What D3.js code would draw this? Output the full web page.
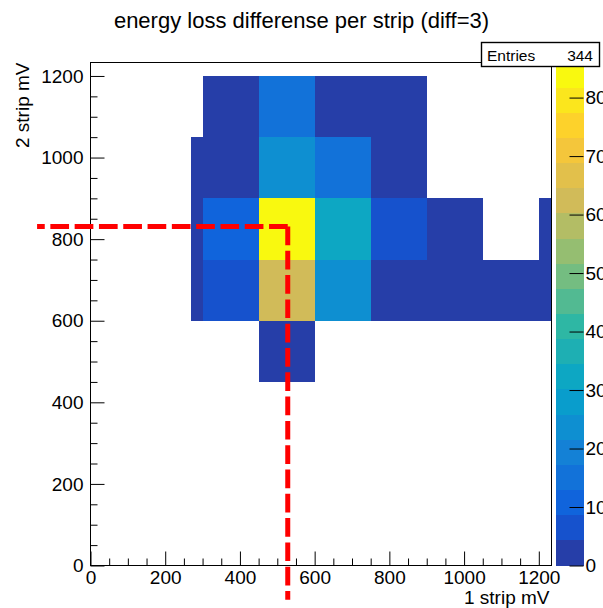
<!DOCTYPE html>
<html>
<head>
<meta charset="utf-8">
<script src="https://cdn.jsdelivr.net/npm/d3@7"></script>
<style>
  body { margin: 0; background: #fff; }
  svg { display: block; }
  text { font-family: "Liberation Sans", Arial, Helvetica, sans-serif; fill: #000; }
</style>
</head>
<body>
<svg id="chart" width="603" height="608"></svg>
<script>
// ---- data -------------------------------------------------------------
const title = "energy loss differense per strip (diff=3)";
const xTitle = "1 strip mV";
const yTitle = "2 strip mV";

// bin edges (mV) along each axis
const xBinEdges = [270, 300, 450, 600, 750, 900, 1050, 1200, 1350];
const yBinEdges = [450, 600, 750, 900, 1050, 1200];

// counts per cell: one row per y bin (bottom to top), one column per x bin
const binCounts = [
  [0, 0,  3,  0, 0, 0, 0, 0],   // 450-600
  [2, 6, 62, 24, 3, 2, 2, 1],   // 600-750
  [2, 10, 86, 32, 6, 2, 0, 1],  // 750-900
  [2, 3, 23, 14, 4, 0, 0, 0],   // 900-1050
  [0, 3, 15,  2, 2, 0, 0, 0]    // 1050-1200
];

const entries = 344;
const xRange = [0, 1234];
const yRange = [0, 1233];
const zMax = 86;
const nContours = 20;
const axisTicks = [0, 200, 400, 600, 800, 1000, 1200];
const zTicks = [0, 10, 20, 30, 40, 50, 60, 70, 80];

// guide lines marking the peak cell (mV)
const guideX = 528;
const guideY = 831;
const guideXStart = -143;
const guideYEnd = -84;

// ---- bird colour palette (255-colour gradient) -------------------------
const birdStops = [0.0000, 0.1250, 0.2500, 0.3750, 0.5000, 0.6250, 0.7500, 0.8750, 1.0000];
const birdR = [0.2082, 0.0592, 0.0780, 0.0232, 0.1802, 0.5301, 0.8186, 0.9956, 0.9764];
const birdG = [0.1664, 0.3599, 0.5041, 0.6419, 0.7178, 0.7492, 0.7328, 0.7862, 0.9832];
const birdB = [0.5293, 0.8684, 0.8385, 0.7914, 0.6425, 0.4662, 0.3499, 0.1968, 0.0539];
const nColors = 255;
const palette = [];
for (let g = 1; g < birdStops.length; g++) {
  const n = Math.floor(nColors * birdStops[g]) - Math.floor(nColors * birdStops[g - 1]);
  for (let c = 0; c < n; c++) {
    const r = birdR[g - 1] + c * (birdR[g] - birdR[g - 1]) / n;
    const gg = birdG[g - 1] + c * (birdG[g] - birdG[g - 1]) / n;
    const b = birdB[g - 1] + c * (birdB[g] - birdB[g - 1]) / n;
    palette.push(d3.rgb(Math.round(r * 255), Math.round(gg * 255), Math.round(b * 255)).formatHex());
  }
}
const levelColor = k => palette[Math.floor((k + 0.99) * nColors / nContours)];
const levelOf = v => Math.min(nContours - 1, Math.floor(0.01 + v * nContours / zMax));

// ---- layout -----------------------------------------------------------
const svg = d3.select("#chart");
const frame = { left: 90.5, right: 551.5, top: 62.5, bottom: 565.5 };

const x = d3.scaleLinear().domain(xRange).range([frame.left, frame.right]);
const y = d3.scaleLinear().domain(yRange).range([frame.bottom, frame.top]);
const z = d3.scaleLinear().domain([0, zMax]).range([frame.bottom, frame.top]);

svg.append("rect").attr("width", 603).attr("height", 608).attr("fill", "#fff");

// clip for the cells
svg.append("defs").append("clipPath").attr("id", "frameClip")
  .append("rect")
  .attr("x", frame.left).attr("y", frame.top)
  .attr("width", frame.right - frame.left).attr("height", frame.bottom - frame.top);

// ---- cells --------------------------------------------------------------
const cells = [];
binCounts.forEach((row, j) => {
  row.forEach((v, i) => {
    if (v > 0) cells.push({ x0: xBinEdges[i], x1: xBinEdges[i + 1], y0: yBinEdges[j], y1: yBinEdges[j + 1], v });
  });
});

svg.append("g").attr("clip-path", "url(#frameClip)")
  .selectAll("rect").data(cells).join("rect")
  .attr("x", d => x(d.x0))
  .attr("y", d => y(d.y1))
  .attr("width", d => x(d.x1) - x(d.x0))
  .attr("height", d => y(d.y0) - y(d.y1))
  .attr("fill", d => levelColor(levelOf(d.v)))
  .attr("shape-rendering", "crispEdges");

// ---- axes -----------------------------------------------------------------
function styleAxis(g) {
  g.select(".domain").remove();
  g.selectAll("line").attr("stroke", "#000").attr("stroke-width", 1);
  g.selectAll("text").attr("font-size", 19).attr("fill", "#000")
    .attr("font-family", "\"Liberation Sans\", Arial, Helvetica, sans-serif");
}

const minorTicks = d3.range(0, 1234, 50).filter(v => v % 200 !== 0);

svg.append("g").attr("transform", `translate(0,${frame.bottom})`)
  .call(d3.axisBottom(x).tickValues(minorTicks).tickSizeInner(-7).tickSizeOuter(0).tickFormat(""))
  .call(styleAxis);
svg.append("g").attr("transform", `translate(0,${frame.bottom})`)
  .call(d3.axisBottom(x).tickValues(axisTicks).tickSizeInner(-14).tickSizeOuter(0).tickPadding(5).tickFormat(d3.format("d")))
  .call(styleAxis);

svg.append("g").attr("transform", `translate(${frame.left},0)`)
  .call(d3.axisLeft(y).tickValues(minorTicks).tickSizeInner(-7).tickSizeOuter(0).tickFormat(""))
  .call(styleAxis);
svg.append("g").attr("transform", `translate(${frame.left},0)`)
  .call(d3.axisLeft(y).tickValues(axisTicks).tickSizeInner(-14).tickSizeOuter(0).tickPadding(7).tickFormat(d3.format("d")))
  .call(styleAxis);

// frame
svg.append("rect")
  .attr("x", frame.left).attr("y", frame.top)
  .attr("width", frame.right - frame.left).attr("height", frame.bottom - frame.top)
  .attr("fill", "none").attr("stroke", "#000").attr("stroke-width", 1);

// axis titles
svg.append("text")
  .attr("x", frame.right - 2).attr("y", 604)
  .attr("text-anchor", "end").attr("font-size", 19)
  .text(xTitle);
svg.append("text")
  .attr("transform", `translate(29,${frame.top}) rotate(-90)`)
  .attr("text-anchor", "end").attr("font-size", 19)
  .text(yTitle);

// ---- colour scale -----------------------------------------------------------
const barX0 = 555.5, barX1 = 583.5;
const bands = d3.range(nContours);
svg.append("g").selectAll("rect").data(bands).join("rect")
  .attr("x", barX0)
  .attr("width", barX1 - barX0)
  .attr("y", k => z((k + 1) * zMax / nContours))
  .attr("height", k => z(k * zMax / nContours) - z((k + 1) * zMax / nContours))
  .attr("fill", k => levelColor(k))
  .attr("shape-rendering", "crispEdges");

svg.append("g").attr("transform", `translate(${barX1},0)`)
  .call(d3.axisRight(z).tickValues(zTicks).tickSizeInner(-14).tickSizeOuter(0).tickPadding(2).tickFormat(d3.format("d")))
  .call(styleAxis);

// ---- title ----------------------------------------------------------------
svg.append("text")
  .attr("x", 301.5).attr("y", 28)
  .attr("text-anchor", "middle").attr("font-size", 22)
  .text(title);

// ---- statistics box -------------------------------------------------------
const stats = svg.append("g");
stats.append("rect")
  .attr("x", 481.5).attr("y", 42.5).attr("width", 118).attr("height", 24)
  .attr("fill", "#fff").attr("stroke", "#000").attr("stroke-width", 1.4);
stats.append("text").attr("x", 487).attr("y", 61).attr("font-size", 15.5).text("Entries");
stats.append("text").attr("x", 593).attr("y", 61).attr("font-size", 15.5)
  .attr("text-anchor", "end").text(entries);

// ---- guide lines ------------------------------------------------------------
const guide = svg.append("g")
  .attr("fill", "none").attr("stroke", "#ff0000").attr("stroke-width", 5)
  .attr("stroke-dasharray", "18.7 5.6");
guide.append("line")
  .attr("x1", x(guideX)).attr("y1", y(guideY))
  .attr("x2", x(guideXStart)).attr("y2", y(guideY));
guide.append("line")
  .attr("x1", x(guideX)).attr("y1", y(guideY))
  .attr("x2", x(guideX)).attr("y2", y(guideYEnd));
</script>
</body>
</html>
